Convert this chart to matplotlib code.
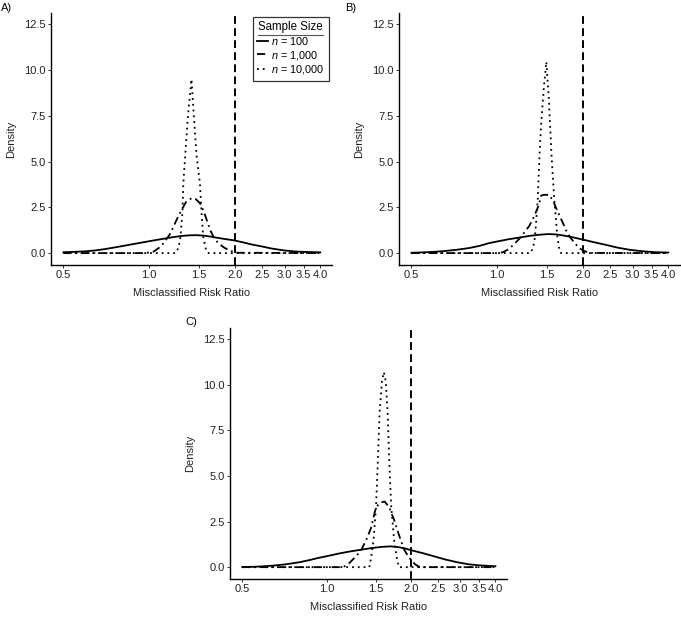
import matplotlib
matplotlib.use('Agg')
import matplotlib.pyplot as plt
from matplotlib.lines import Line2D
from matplotlib.ticker import NullLocator

plt.rcParams['font.family'] = ['Liberation Sans', 'DejaVu Sans']
plt.rcParams['mathtext.fontset'] = 'custom'
plt.rcParams['mathtext.it'] = 'Liberation Sans:italic'
plt.rcParams['mathtext.rm'] = 'Liberation Sans'

# --- data (x = risk ratio, y = density) ---
# panel A
a_x100 = [0.5, 0.55, 0.6, 0.65, 0.7, 0.77, 0.85, 0.93, 1.01, 1.1, 1.2, 1.29, 1.38,
          1.47, 1.57, 1.65, 1.73, 1.85, 2.0, 2.15, 2.3, 2.5, 2.7, 2.97, 3.25, 3.6, 4.0]
a_y100 = [0.05, 0.07, 0.1, 0.15, 0.22, 0.33, 0.45, 0.56, 0.66, 0.76, 0.86, 0.93, 0.97,
          0.98, 0.95, 0.9, 0.84, 0.77, 0.69, 0.58, 0.47, 0.36, 0.25, 0.15, 0.09, 0.06, 0.04]
a_x1k = [0.5, 0.95, 1.0, 1.04, 1.1, 1.15, 1.19, 1.25, 1.3, 1.35, 1.41, 1.46, 1.51,
         1.55, 1.58, 1.64, 1.69, 1.73, 1.8, 1.85, 1.96, 2.05, 4.0]
a_y1k = [0.0, 0.0, 0.03, 0.09, 0.36, 0.75, 1.09, 1.82, 2.35, 2.8, 3.0, 2.95, 2.73,
         2.35, 2.0, 1.27, 0.85, 0.64, 0.4, 0.27, 0.09, 0.02, 0.0]
a_x10k = [0.5, 1.24, 1.27, 1.29, 1.31, 1.32, 1.34, 1.37, 1.41, 1.44, 1.47, 1.51,
          1.53, 1.55, 1.59, 1.62, 4.0]
a_y10k = [0.0, 0.0, 0.3, 0.9, 2.2, 3.8, 5.3, 7.5, 9.5, 7.3, 5.3, 3.8,
          2.2, 0.9, 0.1, 0.0, 0.0]

# panel B
b_x100 = [0.5, 0.55, 0.6, 0.65, 0.72, 0.8, 0.87, 0.94, 1.02, 1.1, 1.2, 1.3, 1.4,
          1.51, 1.62, 1.7, 1.8, 1.9, 2.0, 2.2, 2.43, 2.65, 2.93, 3.25, 3.6, 4.0]
b_y100 = [0.02, 0.04, 0.07, 0.11, 0.18, 0.28, 0.4, 0.55, 0.66, 0.76, 0.85, 0.94, 1.0,
          1.04, 1.02, 0.97, 0.9, 0.82, 0.74, 0.59, 0.44, 0.3, 0.18, 0.1, 0.05, 0.03]
b_x1k = [0.5, 1.0, 1.05, 1.1, 1.15, 1.2, 1.25, 1.3, 1.35, 1.4, 1.43, 1.48, 1.53,
         1.58, 1.62, 1.67, 1.71, 1.76, 1.82, 1.9, 1.97, 2.05, 2.15, 4.0]
b_y1k = [0.0, 0.0, 0.05, 0.22, 0.5, 0.8, 1.15, 1.5, 2.0, 2.6, 3.15, 3.19, 3.17,
         2.8, 2.4, 1.95, 1.6, 1.15, 0.8, 0.45, 0.22, 0.08, 0.01, 0.0]
b_x10k = [0.5, 1.31, 1.34, 1.36, 1.39, 1.41, 1.43, 1.46, 1.49, 1.52, 1.555, 1.59,
          1.63, 1.66, 1.68, 4.0]
b_y10k = [0.0, 0.0, 0.3, 0.9, 2.9, 5.3, 7.1, 9.0, 10.45, 8.5, 5.3, 2.9,
          0.9, 0.1, 0.0, 0.0]

# panel C
c_x100 = [0.5, 0.55, 0.6, 0.65, 0.71, 0.8, 0.87, 0.93, 1.0, 1.1, 1.2, 1.33, 1.45,
          1.57, 1.69, 1.8, 1.9, 1.99, 2.2, 2.41, 2.65, 2.92, 3.2, 3.5, 4.0]
c_y100 = [0.01, 0.02, 0.05, 0.09, 0.15, 0.27, 0.39, 0.5, 0.6, 0.74, 0.85, 0.96, 1.05,
          1.11, 1.14, 1.1, 1.03, 0.94, 0.77, 0.6, 0.42, 0.27, 0.16, 0.1, 0.05]
c_x1k = [0.5, 1.12, 1.16, 1.2, 1.24, 1.29, 1.33, 1.385, 1.44, 1.5, 1.56, 1.61, 1.67,
         1.74, 1.81, 1.89, 1.97, 2.07, 2.15, 4.0]
c_y1k = [0.0, 0.0, 0.05, 0.2, 0.42, 0.7, 0.96, 1.5, 2.15, 3.3, 3.55, 3.6, 3.3,
         2.6, 1.78, 0.96, 0.51, 0.15, 0.0, 0.0]
c_x10k = [0.5, 1.42, 1.44, 1.47, 1.50, 1.52, 1.545, 1.575, 1.60, 1.625, 1.65, 1.675,
          1.70, 1.74, 1.78, 1.81, 4.0]
c_y10k = [0.0, 0.0, 0.5, 1.5, 3.3, 5.5, 8.5, 10.2, 10.7, 10.2, 8.5, 5.5,
          3.3, 1.5, 0.5, 0.0, 0.0]

panels = ['A)', 'B)', 'C)']
x_ticks = [0.5, 1.0, 1.5, 2.0, 2.5, 3.0, 3.5, 4.0]
y_ticks = [0.0, 2.5, 5.0, 7.5, 10.0, 12.5]
series_labels = ['$n$ = 100', '$n$ = 1,000', '$n$ = 10,000']
null_value = 2.0

curves = [
    [(a_x100, a_y100), (a_x1k, a_y1k), (a_x10k, a_y10k)],
    [(b_x100, b_y100), (b_x1k, b_y1k), (b_x10k, b_y10k)],
    [(c_x100, c_y100), (c_x1k, c_y1k), (c_x10k, c_y10k)],
]

styles = ['-', (0, (4.5, 2.2, 1.0, 2.2)), (0, (1.0, 2.2))]
W, H = 681, 618

# axes boxes in pixels: left, top, right, bottom
boxes = [(51, 13, 332, 265), (399, 13, 680, 265), (230, 328, 507, 579)]
label_pos = [(1, 8), (345, 8), (185, 322)]

fig = plt.figure(figsize=(W / 100, H / 100), dpi=100)
for k, (l, t, r, b) in enumerate(boxes):
    ax = fig.add_axes([l / W, 1 - b / H, (r - l) / W, (b - t) / H])
    handles = []
    for (xs, ys), ls, lab in zip(curves[k], styles, series_labels):
        h, = ax.plot(xs, ys, color='black', lw=1.3, linestyle=ls,
                     dash_capstyle='butt', solid_joinstyle='round', label=lab)
        handles.append(h)
    ax.axvline(null_value, color='black', lw=1.4, linestyle=(0, (4.0, 2.2)))

    ax.set_xscale('log', base=2)
    ax.xaxis.set_minor_locator(NullLocator())
    ax.set_xticks(x_ticks)
    ax.set_xticklabels([f'{v:.1f}' for v in x_ticks])
    ax.set_yticks(y_ticks)
    ax.set_yticklabels([f'{v:.1f}' for v in y_ticks])
    ax.set_xlim(0.452, 4.4)
    ax.set_ylim(-0.65, 13.12)

    for side in ['top', 'right']:
        ax.spines[side].set_visible(False)
    for side in ['left', 'bottom']:
        ax.spines[side].set_linewidth(1.0)
    ax.tick_params(length=2.5, width=0.7, pad=1.2, labelsize=8,
                   labelcolor='#222222', color='#333333')
    ax.set_xlabel('Misclassified Risk Ratio', fontsize=8, labelpad=6, color='#222222')
    ax.set_ylabel('Density', fontsize=8, labelpad=6, color='#222222')

    fig.text(label_pos[k][0] / W, 1 - label_pos[k][1] / H, panels[k],
             fontsize=8, ha='left', va='center')

    if k == 0:
        leg = ax.legend(handles=handles, title='Sample Size', loc='upper right',
                        bbox_to_anchor=(0.988, 0.984), borderaxespad=0,
                        fontsize=7.8, title_fontsize=8.3, handlelength=1.0,
                        handletextpad=0.3, labelspacing=0.15, borderpad=0.4,
                        fancybox=False, framealpha=1, edgecolor='#333333')
        leg.get_frame().set_linewidth(0.9)

# underline under the legend title
fig.canvas.draw()
tb = leg.get_title().get_window_extent(fig.canvas.get_renderer())
yy = (tb.y0 - 2.0) / H
fig.add_artist(Line2D([tb.x0 / W, tb.x1 / W], [yy, yy], color='#555555', lw=0.8,
                      transform=fig.transFigure))

fig.savefig('out.png', dpi=100)
